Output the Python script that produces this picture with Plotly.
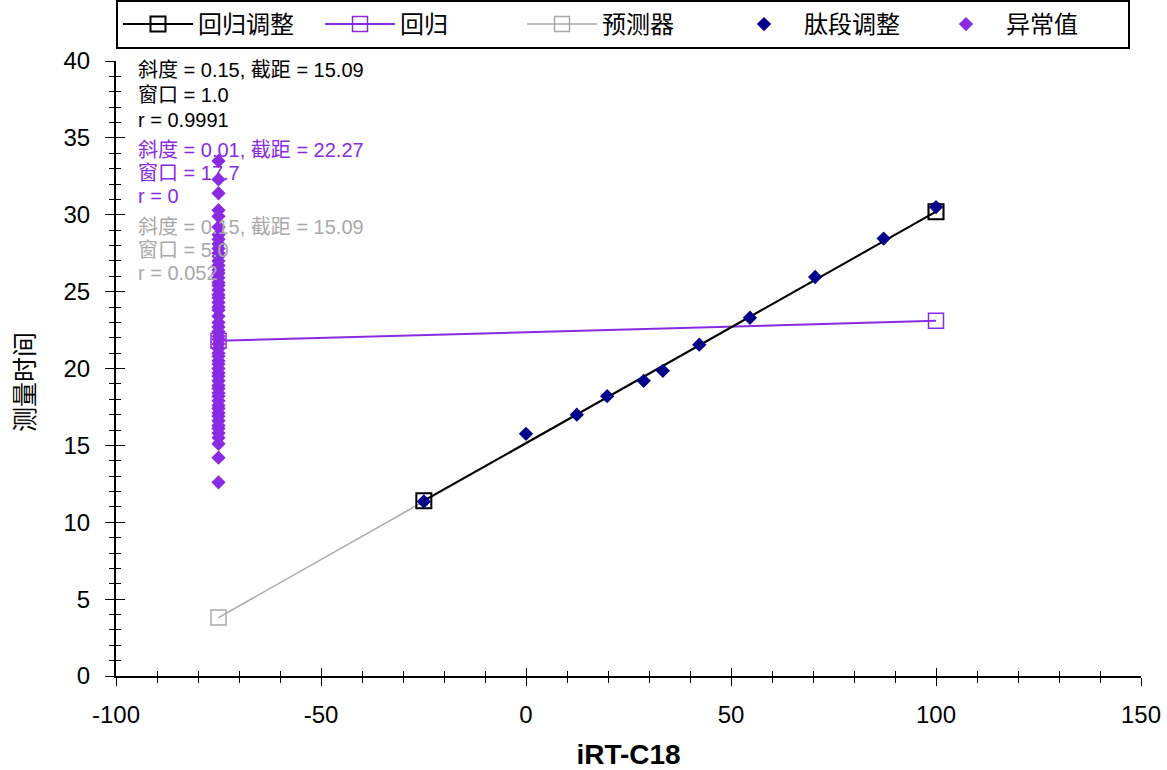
import plotly.graph_objects as go

# ---- data ----
adj_x = [-24.92, 100.0]
adj_y = [11.4, 30.2]

reg_x = [-75.0, 100.0]
reg_y = [21.8, 23.1]

pred_x = [-75.0, 100.0]
pred_y = [3.8, 30.2]

pep_x = [-24.92, 0.0, 12.39, 19.79, 28.71, 33.38, 42.26, 54.62, 70.52, 87.23, 100.0]
pep_y = [11.35, 15.75, 17.0, 18.2, 19.2, 19.85, 21.55, 23.3, 25.95, 28.45, 30.5]

out_y = [12.6, 14.2, 15.1, 15.5, 15.8, 16.1, 16.3, 16.6, 16.9, 17.1, 17.4, 17.6, 17.9,
         18.2, 18.4, 18.7, 18.9, 19.2, 19.5, 19.7, 20.0, 20.3, 20.5, 20.8, 21.0, 21.3,
         21.6, 21.9, 22.1, 22.4, 22.7, 23.0, 23.4, 23.8, 24.0, 24.3, 24.6, 24.8, 25.1,
         25.4, 25.6, 25.9, 26.2, 26.4, 26.7, 27.0, 27.3, 27.5, 27.8, 28.1, 28.4, 28.7,
         29.2, 29.9, 30.3, 31.4, 32.3, 33.5]
out_x = [-75.0] * len(out_y)

x_ticks = [-100, -50, 0, 50, 100, 150]
x_tick_text = ["-100", "-50", "0", "50", "100", "150"]
y_ticks = [0, 5, 10, 15, 20, 25, 30, 35, 40]
y_tick_text = ["0", "5", "10", "15", "20", "25", "30", "35", "40"]

names = ["回归调整", "回归", "预测器", "肽段调整", "异常值"]
stat_lines = [
    ["斜度 = 0.15, 截距 = 15.09", "窗口 = 1.0", "r = 0.9991"],
    ["斜度 = 0.01, 截距 = 22.27", "窗口 = 17.7", "r = 0"],
    ["斜度 = 0.15, 截距 = 15.09", "窗口 = 5.0", "r = 0.052"],
]

BLACK = "#000000"
PURPLE = "#8a2be2"
GREY = "#a9a9a9"
NAVY = "#00008b"
NUMFONT = "Liberation Sans, Arial, sans-serif"
CJK = "Liberation Sans, Noto Sans CJK SC, sans-serif"

# layout geometry (pixels)
PLOT_TOP, PLOT_BOTTOM, PLOT_LEFT, PLOT_RIGHT = 61, 676, 116, 1141
PH = PLOT_BOTTOM - PLOT_TOP
PW = PLOT_RIGHT - PLOT_LEFT
stat_colors = [BLACK, PURPLE, GREY]
stat_pix = [[70, 95, 120], [150, 173, 196], [227, 250, 273]]

fig = go.Figure()

# draw order: predictor, regression, adjusted, peptides, outliers
fig.add_trace(go.Scatter(x=pred_x, y=pred_y, mode="lines+markers", name=names[2],
                         legendrank=3,
                         line=dict(color=GREY, width=1.5),
                         marker=dict(symbol="square-open", size=15, color=GREY,
                                     line=dict(width=1.5, color=GREY))))
fig.add_trace(go.Scatter(x=reg_x, y=reg_y, mode="lines+markers", name=names[1],
                         legendrank=2,
                         line=dict(color=PURPLE, width=2),
                         marker=dict(symbol="square-open", size=15, color=PURPLE,
                                     line=dict(width=1.5, color=PURPLE))))
fig.add_trace(go.Scatter(x=adj_x, y=adj_y, mode="lines+markers", name=names[0],
                         legendrank=1,
                         line=dict(color=BLACK, width=2),
                         marker=dict(symbol="square-open", size=15, color=BLACK,
                                     line=dict(width=2, color=BLACK))))
fig.add_trace(go.Scatter(x=pep_x, y=pep_y, mode="markers", name=names[3],
                         legendrank=4,
                         marker=dict(symbol="diamond", size=11, color=NAVY)))
fig.add_trace(go.Scatter(x=out_x, y=out_y, mode="markers", name=names[4],
                         legendrank=5,
                         marker=dict(symbol="diamond", size=11, color=PURPLE)))
# dummy trace to bind the overlay axes (inside half of crossing ticks)
fig.add_trace(go.Scatter(x=[None], y=[None], xaxis="x2", yaxis="y2",
                         showlegend=False, hoverinfo="skip"))

for lines, col, pys in zip(stat_lines, stat_colors, stat_pix):
    for txt, py in zip(lines, pys):
        fig.add_annotation(x=(136 - PLOT_LEFT) / PW, y=1 - (py - PLOT_TOP) / PH,
                           xref="paper", yref="paper", xanchor="left",
                           yanchor="middle", text=txt, showarrow=False, align="left",
                           font=dict(size=20, color=col, family=CJK))

# y-axis title as rotated annotation
fig.add_annotation(x=(25 - PLOT_LEFT) / PW, y=1 - (382 - PLOT_TOP) / PH,
                   xref="paper", yref="paper", xanchor="center", yanchor="middle",
                   text="测量时间", textangle=-90, showarrow=False,
                   font=dict(size=25, color=BLACK, family=CJK))

common_x = dict(range=[-100, 150], tickmode="array", tickvals=x_ticks, showgrid=False,
                zeroline=False, tickwidth=1, tickcolor=BLACK)
common_y = dict(range=[0, 40], tickmode="array", tickvals=y_ticks, showgrid=False,
                zeroline=False, tickwidth=1, tickcolor=BLACK)

fig.update_layout(
    width=1167, height=770,
    margin=dict(l=116, r=26, t=61, b=94, autoexpand=False),
    plot_bgcolor="white", paper_bgcolor="white",
    font=dict(family=NUMFONT, color=BLACK),
    xaxis=dict(**common_x, ticktext=x_tick_text, ticks="outside", ticklen=8,
               showline=True, linecolor=BLACK,
               linewidth=2, tickfont=dict(size=24, family=NUMFONT),
               ticklabelstandoff=8,
               minor=dict(dtick=10, tick0=0, ticks="outside", ticklen=5, tickwidth=1,
                          tickcolor=BLACK, showgrid=False),
               title=dict(text="<b>iRT-C18</b>", font=dict(size=28, family=NUMFONT),
                          standoff=28)),
    xaxis2=dict(**common_x, overlaying="x", anchor="y2", ticks="inside", ticklen=8,
                showticklabels=False, showline=False,
                minor=dict(dtick=10, tick0=0, ticks="inside", ticklen=5, tickwidth=1,
                           tickcolor=BLACK, showgrid=False)),
    yaxis=dict(**common_y, ticktext=y_tick_text, ticks="outside", ticklen=9,
               showline=True, linecolor=BLACK,
               linewidth=2, tickfont=dict(size=24, family=NUMFONT),
               ticklabelstandoff=10,
               minor=dict(dtick=1, tick0=0, ticks="outside", ticklen=5, tickwidth=1,
                          tickcolor=BLACK, showgrid=False)),
    yaxis2=dict(**common_y, overlaying="y", anchor="x2", ticks="inside", ticklen=9,
                showticklabels=False, showline=False,
                minor=dict(dtick=1, tick0=0, ticks="inside", ticklen=5, tickwidth=1,
                           tickcolor=BLACK, showgrid=False)),
    legend=dict(orientation="h", x=0, y=1 + 12 / PH, xref="paper", yref="paper",
                xanchor="left", yanchor="bottom", bordercolor=BLACK, borderwidth=2,
                bgcolor="white", font=dict(size=24, family=CJK),
                entrywidth=117, entrywidthmode="pixels", itemwidth=70,
                traceorder="normal"),
    showlegend=True,
)

fig.write_html("out.html")
